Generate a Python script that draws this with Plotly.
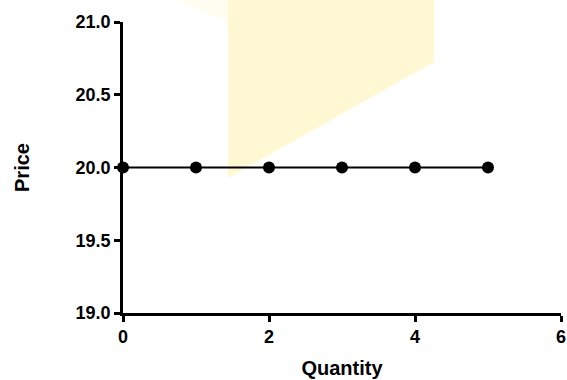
import plotly.graph_objects as go

quantity = [0, 1, 2, 3, 4, 5]
price = [20, 20, 20, 20, 20, 20]
x_ticks = [0, 2, 4, 6]
y_ticks = [19.0, 19.5, 20.0, 20.5, 21.0]

font_family = "Liberation Sans, Arial, sans-serif"

fig = go.Figure()
fig.add_trace(go.Scatter(
    x=quantity, y=price, mode="lines+markers",
    line=dict(color="black", width=2),
    marker=dict(color="black", size=12),
    cliponaxis=False, showlegend=False,
))

# background watermark (decorative)
fig.add_shape(type="path", xref="paper", yref="paper",
              path="M 0.2397 1.0756 L 0.710 1.0756 L 0.710 0.8625 L 0.2397 0.464 Z",
              fillcolor="#FFF8D2", line=dict(width=0), layer="below")
fig.add_shape(type="path", xref="paper", yref="paper",
              path="M 0.123 1.0756 L 0.2397 1.0756 L 0.2397 1.0 Z",
              fillcolor="#FFFDF0", line=dict(width=0), layer="below")

axis_common = dict(
    showgrid=False, zeroline=False, showline=True, linecolor="black", linewidth=2.5,
    ticks="outside", ticklen=6, tickwidth=2.5, tickcolor="black", automargin=False,
    tickfont=dict(family=font_family, size=18, color="black", weight="bold"),
)

fig.update_layout(
    width=567, height=380,
    margin=dict(l=123, r=6, t=22, b=67),
    paper_bgcolor="white", plot_bgcolor="white",
    xaxis=dict(range=[0, 6], tickvals=x_ticks, ticktext=[str(v) for v in x_ticks],
               title=dict(text="Quantity", standoff=15,
                          font=dict(family=font_family, size=20, color="black", weight="bold")),
               **axis_common),
    yaxis=dict(range=[19, 21], tickvals=y_ticks, ticktext=[f"{v:.1f}" for v in y_ticks],
               title=dict(text="Price", standoff=41,
                          font=dict(family=font_family, size=20, color="black", weight="bold")),
               **axis_common),
)

fig.write_html(
    "out.html",
    config={"displayModeBar": False},
    post_script="document.body.style.margin='0';document.body.style.overflow='hidden';",
)
